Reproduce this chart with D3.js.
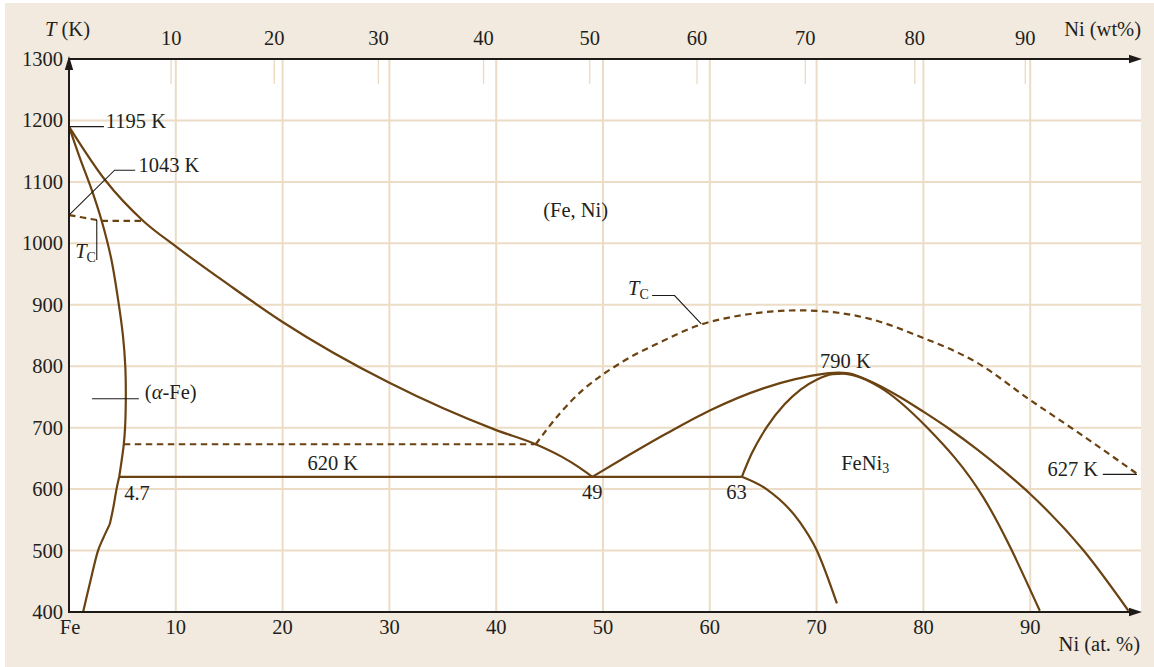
<!DOCTYPE html>
<html><head><meta charset="utf-8">
<script src="https://cdn.jsdelivr.net/npm/d3@7/dist/d3.min.js"></script>
<style>html,body{margin:0;padding:0;background:#fff;}svg{display:block;}
text{font-family:"Liberation Serif","Times New Roman",serif;fill:#231f20;}</style>
</head><body><svg id="c" width="1154" height="667"></svg>
<script>
// ---- data (Ni at.%, T in K) ----
const atTicks = [10,20,30,40,50,60,70,80,90];
const wtTicks = [10,20,30,40,50,60,70,80,90];
const tTicks = [400,500,600,700,800,900,1000,1100,1200,1300];
const tGrid = [500,600,700,800,900,1000,1100,1200];

const alphaUpper = [[0,1190],[1.04,1138],[2.13,1087],[3.07,1036],[3.94,976],[4.6,908],[5.05,850],[5.27,800],[5.32,750],[5.25,700],[5.13,673],[4.7,620]];
const alphaMid = [[4.7,620],[4.45,600],[4.15,570],[3.82,543]];
const alphaLow = [[3.82,543],[3.2,520],[2.72,500],[2.0,450],[1.32,400]];
const gammaLeft = [[0,1190],[3.38,1103],[6.98,1036],[10,995],[15,932],[20,872],[30,773],[40,696],[43.7,673],[46.2,652],[47.8,635],[49,620]];
const gammaDome = [[49,620],[52,651],[55.9,690],[60,728],[65,764],[68,779],[70,786],[72,789.5],[73,788.5],[74.7,778],[77.8,750],[80,726],[82.5,697],[85,665],[87.5,630],[90,592],[95,500],[99.2,402]];
const feni3Dome = [[63,620],[63.9,657],[65.3,700],[67,738],[68.5,762],[70,778],[71.5,787],[72.5,788],[73.5,785],[75.9,766],[80.3,701],[85.6,587],[90.9,402]];
const lowBranch = [[63,620],[65.3,600],[68.4,547],[70,501],[71.9,414]];
const eutectoid = [[4.7,620],[63,620]];
const tcLeft = [[0,1046],[1.3,1042],[2.6,1038],[3.3,1036.5],[6.98,1036.5]];
const tcFlat = [[5.13,673],[43.7,673]];
const tcDome = [[43.7,673],[46,724],[47,743],[51.9,808],[55,836],[59.2,868],[63,883],[66.6,890],[68.5,891],[70,890],[72,887],[75,877],[79.7,848],[85,806],[90,745],[95,686],[100,625]];

// ---- layout ----
const svg = d3.select("#c");
const x = d3.scaleLinear().domain([0,100]).range([69,1137]);
const y = d3.scaleLinear().domain([400,1300]).range([612,59]);
const wtToAt = w => 100*(w/58.69)/((w/58.69)+((100-w)/55.85));
const brown = "#6b4211", grid = "#ecdcc6", ink = "#1e1a18";
const FS = 20.5;

svg.append("rect").attr("x",5).attr("y",3).attr("width",1149).attr("height",664).attr("fill","#f2eadf");
svg.append("rect").attr("x",69).attr("y",59).attr("width",1072).attr("height",553).attr("fill","#fff");

// grid
svg.append("g").selectAll("line").data(tGrid).join("line")
  .attr("x1",69).attr("x2",1141).attr("y1",d=>y(d)).attr("y2",d=>y(d))
  .attr("stroke",grid).attr("stroke-width",2);
svg.append("g").selectAll("line").data(atTicks).join("line")
  .attr("x1",d=>x(d)).attr("x2",d=>x(d)).attr("y1",59).attr("y2",612)
  .attr("stroke",grid).attr("stroke-width",2);
// wt% ticks
svg.append("g").selectAll("line").data(wtTicks).join("line")
  .attr("x1",d=>x(wtToAt(d))).attr("x2",d=>x(wtToAt(d))).attr("y1",59).attr("y2",84)
  .attr("stroke",grid).attr("stroke-width",1.4);

// curves
const lineC = d3.line().x(d=>x(d[0])).y(d=>y(d[1])).curve(d3.curveCatmullRom.alpha(0.5));
const lineM = d3.line().x(d=>x(d[0])).y(d=>y(d[1])).curve(d3.curveMonotoneX);
const straight = d3.line().x(d=>x(d[0])).y(d=>y(d[1]));
const solidFeSide = [alphaUpper,alphaMid,alphaLow];
const solidX = [gammaLeft,gammaDome,feni3Dome,lowBranch];
svg.append("g").selectAll("path").data(solidFeSide).join("path")
  .attr("d",lineC).attr("fill","none").attr("stroke",brown).attr("stroke-width",2.2);
svg.append("g").selectAll("path").data(solidX).join("path")
  .attr("d",lineM).attr("fill","none").attr("stroke",brown).attr("stroke-width",2.2);
svg.append("path").attr("d",straight(eutectoid)).attr("fill","none").attr("stroke",brown).attr("stroke-width",2.2);
svg.append("g").selectAll("path").data([tcLeft,tcDome]).join("path")
  .attr("d",lineM).attr("fill","none").attr("stroke",brown).attr("stroke-width",2.2).attr("stroke-dasharray","6.5,4.5");
svg.append("path").attr("d",straight(tcFlat)).attr("fill","none").attr("stroke",brown).attr("stroke-width",2.2).attr("stroke-dasharray","6.5,4.5");

// axes
const ax = svg.append("g");
ax.append("line").attr("x1",69).attr("x2",69).attr("y1",613).attr("y2",66).attr("stroke",ink).attr("stroke-width",2);
ax.append("line").attr("x1",68).attr("x2",1132).attr("y1",612).attr("y2",612).attr("stroke",ink).attr("stroke-width",2);
ax.append("line").attr("x1",68).attr("x2",1132).attr("y1",59).attr("y2",59).attr("stroke",ink).attr("stroke-width",2);
ax.append("path").attr("d","M69,56 L64.8,70 L73.2,70 Z").attr("fill",ink);
ax.append("path").attr("d","M1142,59 L1129,54.8 L1129,63.2 Z").attr("fill",ink);
ax.append("path").attr("d","M1142,612 L1129,607.8 L1129,616.2 Z").attr("fill",ink);

// tick labels
svg.append("g").selectAll("text").data(tTicks).join("text")
  .attr("x",63).attr("y",d=>y(d)+7).attr("text-anchor","end").attr("font-size",FS).text(d=>d);
svg.append("g").selectAll("text").data(atTicks).join("text")
  .attr("x",d=>x(d)).attr("y",634).attr("text-anchor","middle").attr("font-size",FS).text(d=>d);
svg.append("text").attr("x",x(0)+1).attr("y",634).attr("text-anchor","middle").attr("font-size",FS).text("Fe");
svg.append("g").selectAll("text").data(wtTicks).join("text")
  .attr("x",d=>x(wtToAt(d))).attr("y",45).attr("text-anchor","middle").attr("font-size",FS).text(d=>d);

// axis titles
const tk = svg.append("text").attr("x",45).attr("y",36).attr("font-size",FS);
tk.append("tspan").attr("font-style","italic").text("T");
tk.append("tspan").text(" (K)");
svg.append("text").attr("x",1141).attr("y",36).attr("text-anchor","end").attr("font-size",FS).text("Ni (wt%)");
svg.append("text").attr("x",1140).attr("y",651).attr("text-anchor","end").attr("font-size",FS).text("Ni (at. %)");

// leaders
const lead = d3.line().x(d=>x(d[0])).y(d=>y(d[1]));
const leaders = [
  [[0,1190],[3.27,1190]],
  [[0,1046],[4.27,1119],[6.2,1119]],
  [[2.6,1038],[2.6,973]],
  [[2.16,747],[6.54,747]],
  [[54.6,915],[56.7,915],[59.2,869]],
  [[96.8,624],[100,624]]
];
svg.append("g").selectAll("path").data(leaders).join("path")
  .attr("d",lead).attr("fill","none").attr("stroke",ink).attr("stroke-width",1.1);

function label(t, at, T, anchor, dy){
  return svg.append("text").attr("x",x(at)).attr("y",y(T)+(dy||0)).attr("text-anchor",anchor||"start").attr("font-size",FS).text(t);
}
label("1195 K",3.45,1190,"start",1);
label("1043 K",6.5,1119,"start",1.5);
label("4.7",5.17,582);
label("620 K",24.7,631,"middle");
label("49",49.0,584,"middle");
label("63",62.5,584,"middle");
label("(Fe, Ni)",44.4,1043);
label("790 K",72.7,797.5,"middle");
label("627 K",96.36,622,"end");
const af = svg.append("text").attr("x",x(7.1)).attr("y",y(747)).attr("font-size",FS);
af.append("tspan").text("(");
af.append("tspan").attr("font-style","italic").text("α");
af.append("tspan").text("-Fe)");
function tc(at,T){
  const t = svg.append("text").attr("x",x(at)).attr("y",y(T)).attr("font-size",FS);
  t.append("tspan").attr("font-style","italic").text("T");
  t.append("tspan").attr("font-size",14).attr("dy",4).text("C");
}
tc(0.58,976);
tc(52.35,916);
const fn = svg.append("text").attr("x",x(72.3)).attr("y",y(631)).attr("font-size",FS);
fn.append("tspan").text("FeNi");
fn.append("tspan").attr("font-size",14).attr("dy",3).text("3");
</script></body></html>
